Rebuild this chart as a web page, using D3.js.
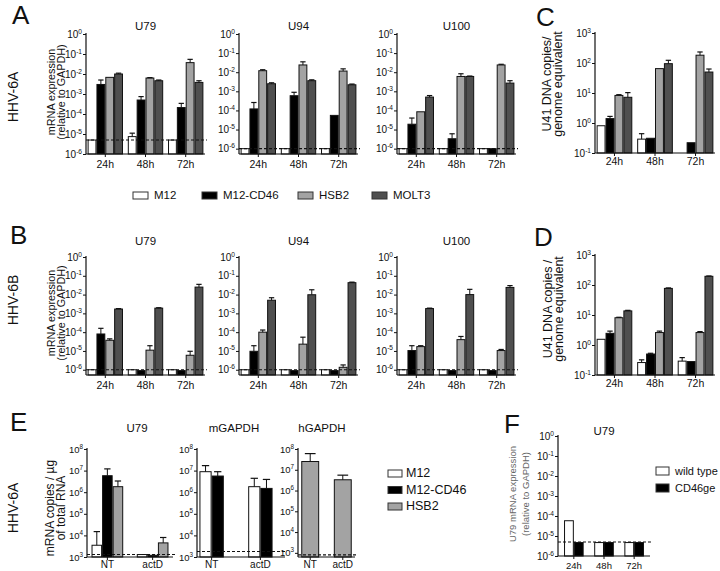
<!DOCTYPE html>
<html><head><meta charset="utf-8">
<script src="https://cdn.jsdelivr.net/npm/d3@7"></script>
<style>body{margin:0;background:#fff}svg{display:block;font-family:"Liberation Sans",Arial,sans-serif}</style>
</head><body><svg id="c" width="720" height="571"></svg>
<script>
// ---------- data ----------
const timepoints = ["24h", "48h", "72h"];
const cellLines = ["M12", "M12-CD46", "HSB2", "MOLT3"];
const eCellLines = ["M12", "M12-CD46", "HSB2"];
const treatments = ["NT", "actD"];
const genotypes = ["wild type", "CD46ge"];

// A: HHV-6A mRNA (relative to GAPDH); rows = timepoints, cols = cell lines; err = upper end of error bar
const aU79Mean = [[5e-6, 3e-3, 6.8e-3, 1e-2], [7.4e-6, 5e-4, 6.3e-3, 4.6e-3], [5e-6, 2.1e-4, 3.7e-2, 3.8e-3]];
const aU79Err = [[null, 5e-3, null, 1.1e-2], [1.1e-5, 7.4e-4, 6.6e-3, 5e-3], [null, 3.4e-4, 5.4e-2, 4.6e-3]];
const aU94Mean = [[1e-6, 1.2e-4, 1.2e-2, 2.5e-3], [1e-6, 5.9e-4, 2.4e-2, 3.6e-3], [1e-6, 5.5e-5, 1.15e-2, 2.2e-3]];
const aU94Err = [[null, 2.6e-4, 1.35e-2, 2.8e-3], [null, 8.9e-4, 3.5e-2, 4e-3], [null, null, 1.5e-2, 2.4e-3]];
const aU100Mean = [[1e-6, 1.9e-5, 8.5e-5, 5e-4], [1e-6, 3.3e-6, 6e-3, 6e-3], [1e-6, 1e-6, 2.4e-2, 2.7e-3]];
const aU100Err = [[null, 4e-5, null, 6e-4], [null, 6e-6, 8.3e-3, 6.3e-3], [null, null, 2.6e-2, 3.6e-3]];
// C: HHV-6A U41 DNA copies / genome equivalent
const cMean = [[0.81, 1.4, 8.3, 7.2], [0.29, 0.31, 65, 95], [null, 0.22, 182, 50]];
const cErr = [[null, 1.66, 8.8, 10.3], [0.44, null, null, 123], [null, null, 233, 63]];
// B: HHV-6B mRNA
const bU79Mean = [[1e-6, 8e-5, 3.7e-5, 1.7e-3], [1e-6, 9e-7, 1.1e-5, 1.9e-3], [1e-6, 9e-7, 5.9e-6, 2.5e-2]];
const bU79Err = [[null, 1.6e-4, 4.4e-5, 1.8e-3], [null, null, 1.9e-5, 2e-3], [null, null, 9.6e-6, 3.5e-2]];
const bU94Mean = [[1e-6, 9.6e-6, 1e-4, 5e-3], [1e-6, 9e-7, 2.3e-5, 9.8e-3], [1e-6, 9e-7, 1.35e-6, 4.3e-2]];
const bU94Err = [[null, 1.9e-5, 1.3e-4, 6.8e-3], [null, null, 5.4e-5, 1.8e-2], [null, null, 1.8e-6, 4.6e-2]];
const bU100Mean = [[1e-6, 1.05e-5, 1.7e-5, 1.8e-3], [1e-6, 9e-7, 4e-5, 1e-2], [1e-6, 9e-7, 1.05e-5, 2.4e-2]];
const bU100Err = [[null, 1.9e-5, 1.9e-5, 1.9e-3], [null, null, 5.9e-5, 1.9e-2], [null, null, 1.2e-5, 3e-2]];
// D: HHV-6B U41 DNA copies
const dMean = [[1.55, 2.45, 8.1, 13.7], [0.26, 0.5, 2.6, 77], [0.29, 0.28, 2.6, 195]];
const dErr = [[null, 2.9, 8.4, 14.3], [0.32, 0.53, 2.9, 80], [0.38, null, 2.8, 200]];
// E: mRNA copies / ug total RNA; rows = treatments
const eU79Mean = [[3.5e3, 5.8e6, 1.8e6], [1.3e3, 1.2e3, 4.5e3]];
const eU79Err = [[1.5e4, 1.2e7, 3.3e6], [null, null, 8e3]];
const eMGapdhMean = [[8.9e6, 5.6e6], [1.8e6, 1.5e6]];
const eMGapdhErr = [[1.7e7, 8.9e6], [4.4e6, 3.9e6]];
const eHGapdhMean = [[2.5e7], [3.3e6]];
const eHGapdhErr = [[6e7], [5.5e6]];
// F: U79 mRNA, wild type vs CD46ge
const fMean = [[5.8e-5, 4.7e-6], [4.7e-6, 4.7e-6], [4.7e-6, 4.7e-6]];
// detection limits (dashed lines)
const limits = {aU79: 5e-6, aU94: 1e-6, aU100: 1e-6, b: 1e-6, eU79: 1.3e3, eM: 1.8e3, eH: 8e2, f: 5e-6};

// ---------- styles ----------
const FILL = {"M12": "#ffffff", "M12-CD46": "#000000", "HSB2": "#a3a3a3", "MOLT3": "#4f4f4f", "wild type": "#ffffff", "CD46ge": "#000000"};
const svg = d3.select("#c");
const INK = "#111";

function sup(sel, e, size) {
  sel.text(null);
  sel.append("tspan").text("10");
  sel.append("tspan").attr("dy", -size * 0.42).attr("font-size", size * 0.66).text(e);
}

function panel(o) {
  const g = svg.append("g");
  const y = d3.scaleLog().domain(o.domain).range([o.yBot, o.yTop]);
  const x = d3.scaleBand().domain(o.groups).range(o.bandRange || [o.x0, o.x1])
    .paddingInner(o.pad[0]).paddingOuter(o.pad[1]);
  const xs = d3.scaleBand().domain(o.series).range([0, x.bandwidth()]);
  const bw = xs.bandwidth();
  // bars
  o.means.forEach((row, gi) => row.forEach((v, si) => {
    if (v == null) return;
    const bx = x(o.groups[gi]) + xs(o.series[si]);
    g.append("rect").attr("x", bx + 0.5).attr("y", y(v)).attr("width", bw - 1)
      .attr("height", Math.max(0, o.yBot - y(v))).attr("fill", FILL[o.series[si]])
      .attr("stroke", INK).attr("stroke-width", 1);
    const e = o.errs ? o.errs[gi][si] : null;
    if (e != null) {
      const cx = bx + bw / 2;
      g.append("line").attr("x1", cx).attr("x2", cx).attr("y1", y(v)).attr("y2", y(e)).attr("stroke", INK).attr("stroke-width", 1);
      g.append("line").attr("x1", cx - bw * 0.3).attr("x2", cx + bw * 0.3).attr("y1", y(e)).attr("y2", y(e)).attr("stroke", INK).attr("stroke-width", 1.2);
    }
  }));
  // dashed detection limit
  if (o.limit != null) {
    g.append("line").attr("x1", o.x0).attr("x2", o.x1 + 2).attr("y1", y(o.limit)).attr("y2", y(o.limit))
      .attr("stroke", INK).attr("stroke-width", 1.1).attr("stroke-dasharray", "3,2");
  }
  // y axis
  const tv = d3.range(o.exps[0], o.exps[1] + 1).map(k => Math.pow(10, k));
  const tf = o.tf || 10;
  const ya = g.append("g").attr("transform", `translate(${o.x0},0)`)
    .call(d3.axisLeft(y).tickValues(tv).tickSize(3).tickSizeOuter(0).tickPadding(1));
  ya.select(".domain").attr("stroke", INK).attr("stroke-width", 1.2).attr("d", `M0,${o.yTop - 1}V${o.yBot}`);
  ya.selectAll(".tick line").attr("stroke", INK);
  ya.selectAll(".tick text").attr("font-size", tf).attr("fill", INK).attr("font-family", null)
    .each(function (d) { sup(d3.select(this), Math.round(Math.log10(d)), tf); });
  // x axis
  const xa = g.append("g").attr("transform", `translate(0,${o.yBot})`)
    .call(d3.axisBottom(x).tickSize(3).tickSizeOuter(0).tickPadding(o.xpad == null ? 4 : o.xpad));
  xa.select(".domain").attr("stroke", INK).attr("stroke-width", 1.2).attr("d", `M${o.x0},0H${o.x1}`);
  xa.selectAll(".tick line").attr("stroke", INK);
  xa.selectAll(".tick text").attr("font-size", o.xf || 10.5).attr("fill", INK).attr("font-family", null);
  // title
  if (o.title) g.append("text").attr("x", o.titleX || (o.x0 + o.x1) / 2).attr("y", o.titleY)
    .attr("text-anchor", "middle").attr("font-size", 11.5).attr("fill", INK).text(o.title);
  // y label
  if (o.ylab) o.ylab.forEach((t, i) => {
    g.append("text").attr("transform", `translate(${o.ylabX[i]},${o.ylabY}) rotate(-90)`)
      .attr("text-anchor", "middle").attr("font-size", o.ylabSize || 11).attr("fill", o.ylabColor || INK).text(t);
  });
}

const mrnaLab = ["mRNA expression", "(relative to GAPDH)"];
const pA = {yTop: 34, yBot: 154};
const pB = {yTop: 257, yBot: 375};
const dm6 = [Math.pow(10, -6.28), 1];

// Panel A
panel({...pA, x0: 86, x1: 205, domain: [1e-6, 1], exps: [-6, 0], groups: timepoints, series: cellLines, pad: [0.12, 0.04],
  means: aU79Mean, errs: aU79Err, limit: limits.aU79, title: "U79", titleY: 30, ylab: mrnaLab, ylabX: [55, 65], ylabY: 92, ylabSize: 10.8});
panel({...pA, x0: 239, x1: 358, domain: dm6, exps: [-6, 0], groups: timepoints, series: cellLines, pad: [0.12, 0.04],
  means: aU94Mean, errs: aU94Err, limit: limits.aU94, title: "U94", titleY: 30});
panel({...pA, x0: 397, x1: 516, domain: dm6, exps: [-6, 0], groups: timepoints, series: cellLines, pad: [0.12, 0.04],
  means: aU100Mean, errs: aU100Err, limit: limits.aU100, title: "U100", titleY: 30});
panel({yTop: 33, yBot: 153, x0: 595, x1: 715, domain: [0.1, 1000], exps: [-1, 3], groups: timepoints, series: cellLines, pad: [0.12, 0.04],
  means: cMean, errs: cErr, xpad: 2, ylab: ["U41 DNA copies/", "genome equivalent"], ylabX: [551, 562], ylabY: 84, ylabSize: 12.5});

// Panel B
panel({...pB, x0: 86, x1: 205, domain: dm6, exps: [-6, 0], groups: timepoints, series: cellLines, pad: [0.12, 0.04],
  means: bU79Mean, errs: bU79Err, limit: limits.b, title: "U79", titleY: 245, ylab: mrnaLab, ylabX: [55, 65], ylabY: 313, ylabSize: 10.8});
panel({...pB, x0: 239, x1: 358, domain: dm6, exps: [-6, 0], groups: timepoints, series: cellLines, pad: [0.12, 0.04],
  means: bU94Mean, errs: bU94Err, limit: limits.b, title: "U94", titleY: 245});
panel({...pB, x0: 397, x1: 516, domain: dm6, exps: [-6, 0], groups: timepoints, series: cellLines, pad: [0.12, 0.04],
  means: bU100Mean, errs: bU100Err, limit: limits.b, title: "U100", titleY: 245});
panel({yTop: 255, yBot: 375, x0: 595, x1: 715, domain: [0.1, 1000], exps: [-1, 3], groups: timepoints, series: cellLines, pad: [0.12, 0.04],
  means: dMean, errs: dErr, xpad: 2, ylab: ["U41 DNA copies /", "genome equivalent"], ylabX: [552, 563], ylabY: 309, ylabSize: 12.5});

// Panel E
panel({yTop: 449, yBot: 557, x0: 87, x1: 173, domain: [1e3, 1e8], exps: [3, 8], groups: treatments, series: eCellLines, pad: [0.3, 0.1],
  means: eU79Mean, errs: eU79Err, limit: limits.eU79, title: "U79", titleX: 137, titleY: 432, tf: 9.5, xf: 10, xpad: 1,
  ylab: ["mRNA copies / µg", "of total RNA"], ylabX: [54, 65], ylabY: 508, ylabSize: 12});
panel({yTop: 449, yBot: 557, x0: 197, x1: 285, bandRange: [197, 275], domain: [1e3, 1e8], exps: [3, 8], groups: treatments, series: ["M12", "M12-CD46"], pad: [0.5, 0.05],
  means: eMGapdhMean, errs: eMGapdhErr, limit: limits.eM, title: "mGAPDH", titleX: 234, titleY: 432, tf: 9.5, xf: 10, xpad: 1});
panel({yTop: 449, yBot: 557, x0: 298, x1: 355, domain: [Math.pow(10, 2.8), 1e8], exps: [3, 8], groups: treatments, series: ["HSB2"], pad: [0.45, 0.1],
  means: eHGapdhMean, errs: eHGapdhErr, limit: limits.eH, title: "hGAPDH", titleX: 322, titleY: 432, tf: 9.5, xf: 10, xpad: 1});

// Panel F
panel({yTop: 436, yBot: 556, x0: 558, x1: 650, domain: [1e-6, 1], exps: [-6, 0], groups: timepoints, series: genotypes, pad: [0.35, 0.2],
  means: fMean, errs: null, limit: limits.f, title: "U79", titleY: 435, tf: 10, xf: 9.5, xpad: 3,
  ylab: ["U79 mRNA expression", "(relative to GAPDH)"], ylabX: [516, 529], ylabY: 494, ylabSize: 9.5, ylabColor: "#666"});

// ---------- legends ----------
function legendItem(x, y, w, h, name, tx, size) {
  svg.append("rect").attr("x", x).attr("y", y).attr("width", w).attr("height", h)
    .attr("fill", FILL[name]).attr("stroke", "#333").attr("stroke-width", 1);
  svg.append("text").attr("x", tx).attr("y", y + h).attr("font-size", size).attr("fill", INK).text(name);
}
const midLegendX = [133, 202, 298, 372];
cellLines.forEach((c, i) => legendItem(midLegendX[i], 192, 15, 7, c, midLegendX[i] + 21, 11.5));
eCellLines.forEach((c, i) => legendItem(388, 470 + i * 16.5, 14, 7, c, 406, 12.5));
genotypes.forEach((c, i) => legendItem(656, 467 + i * 17, 13, 8, c, 675, 11));

// ---------- panel letters & virus labels ----------
[["A", 12, 24], ["B", 10, 244], ["C", 536, 26], ["D", 534, 246], ["E", 10, 431], ["F", 504, 433]].forEach(([t, x, y]) =>
  svg.append("text").attr("x", x).attr("y", y).attr("font-size", 26).attr("fill", INK).text(t));
[["HHV-6A", 97], ["HHV-6B", 300], ["HHV-6A", 508]].forEach(([t, cy]) =>
  svg.append("text").attr("transform", `translate(18,${cy}) rotate(-90)`).attr("text-anchor", "middle")
    .attr("font-size", 14).attr("fill", INK).text(t));
</script></body></html>
